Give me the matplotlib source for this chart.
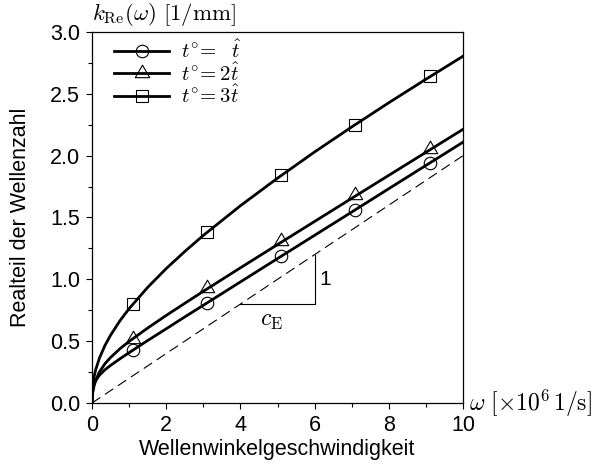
import matplotlib
matplotlib.use("Agg")
import matplotlib.pyplot as plt
from matplotlib.path import Path

plt.rcParams['font.family'] = ['Liberation Sans', 'DejaVu Sans']
plt.rcParams['mathtext.fontset'] = 'cm'

# --------------------------------------------------------
# Data
# --------------------------------------------------------
omega = [0, 0.01, 0.03, 0.06, 0.1, 0.2, 0.35, 0.5, 0.75, 1, 1.5, 2, 2.5, 3, 4, 5, 6, 7, 8, 9, 10]
k_t1 = [0, 0.071, 0.116, 0.152, 0.181, 0.225, 0.269, 0.304, 0.357, 0.407, 0.505, 0.600, 0.696,
        0.790, 0.979, 1.168, 1.356, 1.544, 1.733, 1.921, 2.109]
k_t2 = [0, 0.060, 0.103, 0.145, 0.184, 0.251, 0.318, 0.368, 0.438, 0.498, 0.606, 0.708, 0.806,
        0.903, 1.093, 1.281, 1.468, 1.655, 1.841, 2.027, 2.213]
k_t3 = [0, 0.105, 0.163, 0.218, 0.270, 0.363, 0.466, 0.548, 0.664, 0.763, 0.935, 1.087, 1.225,
        1.355, 1.595, 1.818, 2.030, 2.232, 2.428, 2.618, 2.804]

omega_marks = [1.1, 3.1, 5.1, 7.1, 9.1]
k_t1_marks = [0.43, 0.81, 1.19, 1.56, 1.94]
k_t2_marks = [0.52, 0.93, 1.31, 1.68, 2.05]
k_t3_marks = [0.80, 1.38, 1.84, 2.25, 2.64]

# reference line k = omega / c_E
omega_ref = [0, 10]
k_ref = [0, 2.0]

labels = [r'$t^{\circ}\!=\ \ \hat{t}$', r'$t^{\circ}\!=2\hat{t}$', r'$t^{\circ}\!=3\hat{t}$']

# triangle marker centred on its centroid
tri = Path([(0, 1), (-0.866, -0.5), (0.866, -0.5), (0, 1)],
           [Path.MOVETO, Path.LINETO, Path.LINETO, Path.CLOSEPOLY])

# --------------------------------------------------------
# Plot
# --------------------------------------------------------
fig = plt.figure(figsize=(5.99, 4.73), dpi=100)
ax = fig.add_axes([0.1536, 0.148, 0.6194, 0.7844])

ax.plot(omega_ref, k_ref, color='black', lw=0.8, ls=(0, (9, 5)))

series = [(k_t1, k_t1_marks, 'o', 9), (k_t2, k_t2_marks, tri, 12), (k_t3, k_t3_marks, 's', 8)]
for (curve, marks, mk, ms), lab in zip(series, labels):
    ax.plot(omega, curve, color='black', lw=2.0)
    ax.plot(omega_marks, marks, ls='none', marker=mk, ms=ms, mfc='none', mec='black', mew=0.8)
    # legend proxy
    ax.plot([], [], color='black', lw=2.0, marker=mk, ms=ms, mfc='none', mec='black', mew=0.8, label=lab)

# slope triangle
ax.plot([4, 6, 6], [0.8, 0.8, 1.2], color='black', lw=0.8)
ax.text(6.12, 1.0, '1', fontsize=15, va='center', ha='left')
ax.text(4.85, 0.66, r'$c_{\mathrm{E}}$', fontsize=17, va='center', ha='center')

ax.set_xlim(0, 10)
ax.set_ylim(0, 3.0)
ax.set_xticks([0, 2, 4, 6, 8, 10])
ax.set_xticks([1, 3, 5, 7, 9], minor=True)
ax.set_yticks([0, 0.5, 1.0, 1.5, 2.0, 2.5, 3.0])
ax.set_yticks([0.25, 0.75, 1.25, 1.75, 2.25, 2.75], minor=True)
ax.set_yticklabels(['0.0', '0.5', '1.0', '1.5', '2.0', '2.5', '3.0'])
ax.tick_params(which='both', direction='out', top=False, right=False, labelsize=15.5)
ax.tick_params(which='major', length=4.5, width=0.8, pad=4)
ax.tick_params(which='minor', length=3, width=0.8)
for s in ax.spines.values():
    s.set_linewidth(0.9)

ax.set_xlabel('Wellenwinkelgeschwindigkeit', fontsize=15.5, labelpad=2)
ax.set_ylabel('Realteil der Wellenzahl', fontsize=15.5)
ax.yaxis.set_label_coords(-0.165, 0.5)

ax.text(0.0, 1.012, r'$k_{\mathrm{Re}}(\omega)\ [1/\mathrm{mm}]$', transform=ax.transAxes,
        fontsize=16.5, ha='left', va='bottom')
ax.text(1.015, 0.0, r'$\omega\ [\times 10^6\,1/\mathrm{s}]$', transform=ax.transAxes,
        fontsize=17, ha='left', va='center')

ax.legend(loc='upper left', bbox_to_anchor=(0.04, 1.0), frameon=False, fontsize=15,
          handlelength=2.65, numpoints=1, labelspacing=0.0, borderaxespad=0.15,
          handletextpad=0.55, borderpad=0.2)

plt.savefig('out.png', dpi=100)
